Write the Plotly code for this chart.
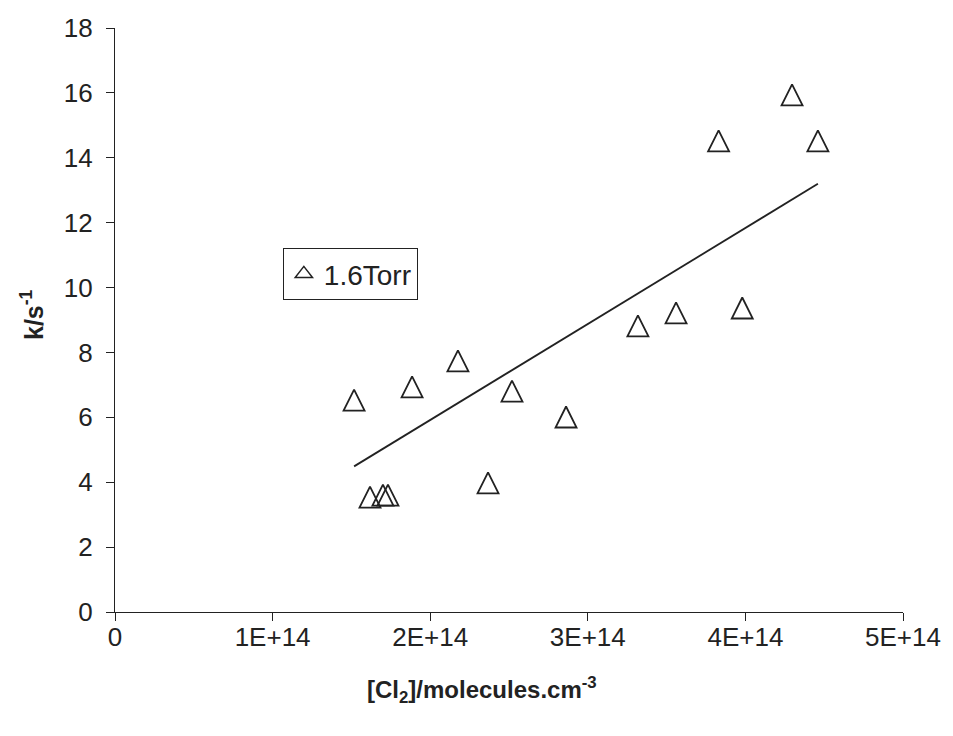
import numpy as np
import plotly.graph_objects as go

# [Cl2] in molecules cm^-3
cl2 = [1.517e14, 1.618e14, 1.70e14, 1.732e14, 1.885e14, 2.176e14, 2.367e14, 2.519e14,
       2.862e14, 3.318e14, 3.56e14, 3.83e14, 3.98e14, 4.296e14, 4.46e14]
# k in s^-1
k = [6.53, 3.54, 3.6, 3.6, 6.94, 7.74, 3.98, 6.81, 6.01, 8.82, 9.22, 14.52, 9.37, 15.94, 14.52]

x_ticks = [0, 1e14, 2e14, 3e14, 4e14, 5e14]
x_ticktext = ["0", "1E+14", "2E+14", "3E+14", "4E+14", "5E+14"]
y_ticks = list(range(0, 19, 2))

xa = np.array(cl2)
ya = np.array(k)
slope = float((xa * ya).sum() / (xa * xa).sum())  # linear trend forced through origin
fit_x = [xa.min(), xa.max()]
fit_y = [slope * v for v in fit_x]

font = "Liberation Sans, Arial, sans-serif"
ink = "#222222"
msize = 21

fig = go.Figure()
fig.add_trace(go.Scatter(
    x=cl2, y=k, mode="markers", name="1.6Torr", showlegend=False,
    marker=dict(symbol="arrow-down-open", angle=180, standoff=msize / 2, size=msize,
                color=ink, line=dict(width=1.8, color=ink)),
))
# legend entry only
fig.add_trace(go.Scatter(
    x=[None], y=[None], mode="markers", name="1.6Torr",
    marker=dict(symbol="triangle-up-open", size=15,
                color=ink, line=dict(width=1.5, color=ink)),
))
fig.add_trace(go.Scatter(
    x=fit_x, y=fit_y, mode="lines", showlegend=False,
    line=dict(color=ink, width=1.8),
))

fig.update_layout(
    width=953, height=736,
    margin=dict(l=115, r=50, t=28, b=124),
    plot_bgcolor="white", paper_bgcolor="white",
    font=dict(family=font, size=26, color=ink),
    legend=dict(x=0.213, y=0.623, xanchor="left", yanchor="top",
                bordercolor=ink, borderwidth=1, bgcolor="white",
                font=dict(family=font, size=28, color=ink),
                itemwidth=30),
    showlegend=True,
)
fig.update_xaxes(
    range=[0, 5e14], tickvals=x_ticks, ticktext=x_ticktext,
    tickfont=dict(family=font, size=26, color=ink),
    showline=True, linecolor=ink, linewidth=1.2,
    ticks="outside", ticklen=8, tickcolor=ink, ticklabelstandoff=-6,
    showgrid=False, zeroline=False,
)
fig.update_yaxes(
    range=[0, 18], tickvals=y_ticks,
    tickfont=dict(family=font, size=26, color=ink),
    showline=True, linecolor=ink, linewidth=1.2,
    ticks="outside", ticklen=8, tickcolor=ink, ticklabelstandoff=8,
    showgrid=False, zeroline=False,
)
fig.add_annotation(
    text="<b>[Cl<sub>2</sub>]/molecules.cm<sup>-3</sup></b>",
    xref="paper", yref="paper", x=(482 - 115) / 788, y=-(690 - 612) / 584,
    xanchor="center", yanchor="middle", showarrow=False,
    font=dict(family=font, size=24, color=ink),
)
fig.add_annotation(
    text="<b>k/s<sup>-1</sup></b>",
    xref="paper", yref="paper", x=-(115 - 32) / 788, y=(612 - 315) / 584,
    xanchor="center", yanchor="middle", showarrow=False, textangle=-90,
    font=dict(family=font, size=25, color=ink),
)

fig.write_html("out.html")
